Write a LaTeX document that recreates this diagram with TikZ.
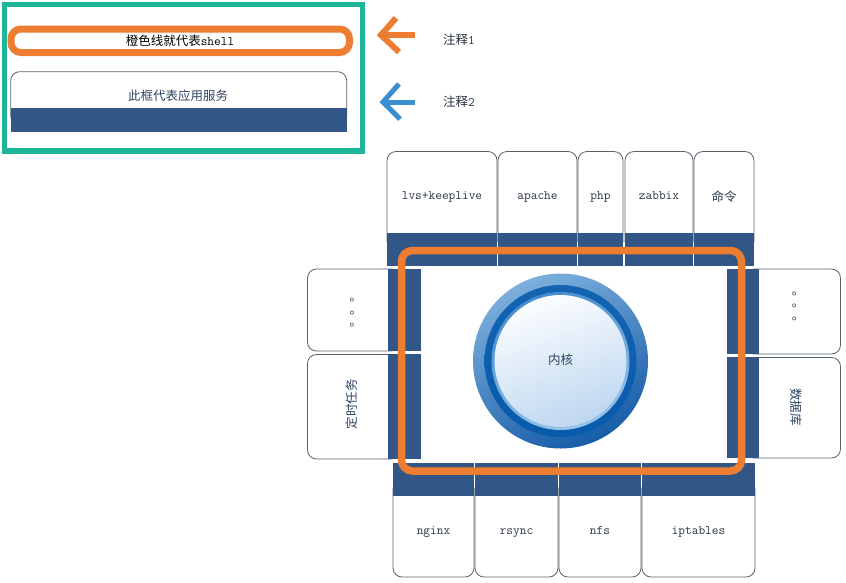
\documentclass[tikz,border=0pt]{standalone}
\usepackage{fontspec}
\newfontfamily\cjk{Noto Sans CJK SC}
\definecolor{svcblue}{RGB}{50,86,133}
\definecolor{svcline}{RGB}{88,98,108}
\definecolor{shellorange}{RGB}{237,125,49}
\definecolor{legendgreen}{RGB}{30,182,153}
\definecolor{notblue}{RGB}{58,143,208}
\definecolor{txtdark}{RGB}{40,52,66}
\definecolor{txtblue}{RGB}{45,68,98}
\tikzset{
  svcbox/.style={draw=svcline, line width=0.8pt, fill=white, rounded corners=9pt},
  lbl/.style={inner sep=0pt, text=txtdark, text height=8pt, text depth=2.5pt, font=\fontsize{13}{15}\selectfont\ttfamily},
  cjklbl/.style={inner sep=0pt, text=txtblue, font=\fontsize{12.5}{14}\selectfont\cjk},
  shell/.style={draw=shellorange, line width=7.5pt, rounded corners=11pt},
}
\begin{document}
\begin{tikzpicture}[x=1pt,y=-1pt]
\useasboundingbox (0,0) rectangle (846,582);
\fill[white] (0,0) rectangle (846,582);

% ---------- legend ----------
\draw[legendgreen, line width=5.5pt] (4.5,4.5) rectangle (362.5,151);
\draw[shell, line width=7pt, rounded corners=10pt] (11,29) rectangle (349.5,52.5);
\node[inner sep=0pt, text=black, font=\fontsize{12.5}{14}\selectfont] (lshell) at (180,41) {{\cjk 橙色线就代表}\fontsize{13}{15}\selectfont\ttfamily shell};
\draw[svcbox] (10.7,71.7) rectangle (346.7,125);
\fill[svcblue] (10.7,108.3) rectangle (346.7,131.7);
\node[cjklbl] (lsvc) at (178,96) {此框代表应用服务};

% arrows
\draw[shellorange, line width=6pt] (379,35) -- (415,35);
\draw[shellorange, line width=6pt, line join=miter] (396,18) -- (381,35) -- (399,52);
\draw[notblue, line width=5pt] (382,102) -- (415,102);
\draw[notblue, line width=5pt, line join=miter] (399,84) -- (383,102) -- (400,119);
\node[inner sep=0pt, text=txtdark, font=\fontsize{12.5}{14}\selectfont] (n1) at (459,40) {{\cjk 注释}\fontsize{13}{15}\selectfont\ttfamily 1};
\node[inner sep=0pt, text=txtdark, font=\fontsize{12.5}{14}\selectfont] (n2) at (459,102) {{\cjk 注释}\fontsize{13}{15}\selectfont\ttfamily 2};

% ---------- top boxes ----------
\foreach \xa/\xb in {387/497, 498/577, 578/623, 625/693, 694/754}{
  \draw[svcbox] (\xa,151.5) rectangle (\xb,250);
  \fill[svcblue] (\xa-0.4,232.5) rectangle (\xb+0.4,266);
}
\node[lbl] (tlvs) at (442,197) {lvs+keeplive};
\node[lbl] (tapache) at (537.5,197) {apache};
\node[lbl] (tphp) at (600.5,197) {php};
\node[lbl] (tzabbix) at (659,197) {zabbix};
\node[cjklbl, text=txtdark] (tcmd) at (724,197) {命令};

% ---------- left boxes ----------
\foreach \ya/\yb in {269/351, 354.5/459}{
  \draw[svcbox] (307.5,\ya) rectangle (400,\yb);
  \fill[svcblue] (388,\ya-0.4) rectangle (421,\yb+0.4);
}
\node[cjklbl, rotate=90] (ldots) at (352.5,309) {。。。};
\node[cjklbl, rotate=90] (lcron) at (352,404) {定时任务};

% ---------- right boxes ----------
\foreach \ya/\yb in {269/354, 357.5/458}{
  \draw[svcbox] (745,\ya) rectangle (840.5,\yb);
  \fill[svcblue] (727,\ya-0.4) rectangle (759,\yb+0.4);
}
\node[cjklbl, rotate=-90] (rdots) at (795,310) {。。。};
\node[cjklbl, rotate=-90] (rdb) at (796,407) {数据库};

% ---------- bottom boxes ----------
\foreach \xa/\xb in {393/474, 475/558, 559/641, 642/755}{
  \draw[svcbox] (\xa,480) rectangle (\xb,577);
  \fill[svcblue] (\xa-0.4,463) rectangle (\xb+0.4,496);
}
\node[lbl] (bnginx) at (433.5,532) {nginx};
\node[lbl] (brsync) at (516.5,532) {rsync};
\node[lbl] (bnfs) at (600,532) {nfs};
\node[lbl] (bipt) at (698.5,532) {iptables};

% ---------- kernel ----------
\shade[shading=axis, top color={rgb,255:red,125;green,175;blue,220}, bottom color={rgb,255:red,22;green,92;blue,168}, shading angle=25] (560.5,361) circle[radius=87.5];
\shade[shading=axis, top color={rgb,255:red,20;green,100;blue,178}, bottom color={rgb,255:red,8;green,90;blue,170}] (560.5,361) circle[radius=76];
\shade[shading=axis, top color={rgb,255:red,70;green,140;blue,205}, bottom color={rgb,255:red,150;green,195;blue,232}, shading angle=20] (560.5,361) circle[radius=69];
\shade[shading=axis, top color={rgb,255:red,252;green,253;blue,255}, bottom color={rgb,255:red,190;green,215;blue,240}, shading angle=20] (560.5,361) circle[radius=66];
\node[cjklbl] (kernel) at (560.5,360) {内核};

% ---------- shell ----------
\draw[shell] (401.5,250.5) rectangle (741.5,471);
\end{tikzpicture}
\end{document}
